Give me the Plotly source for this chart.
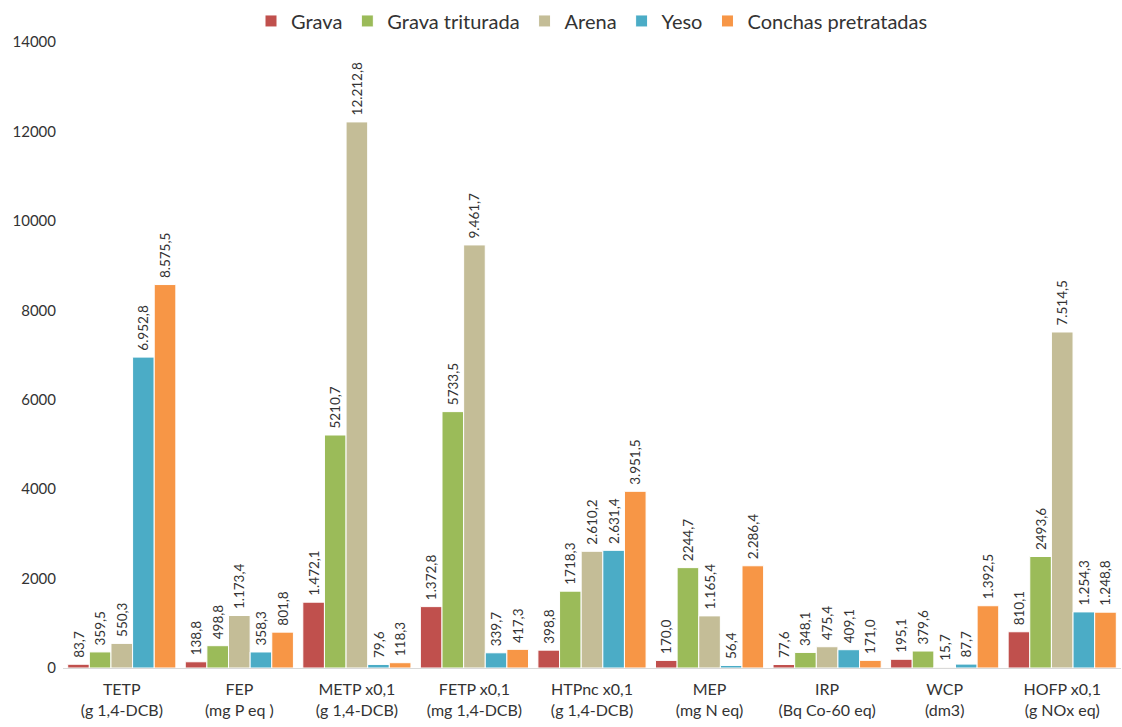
import plotly.graph_objects as go

categories = [
    "TETP<br>(g 1,4-DCB)", "FEP<br>(mg P eq )", "METP x0,1<br>(g 1,4-DCB)",
    "FETP x0,1<br>(mg 1,4-DCB)", "HTPnc x0,1<br>(g 1,4-DCB)", "MEP<br>(mg N eq)",
    "IRP<br>(Bq Co-60 eq)", "WCP<br>(dm3)", "HOFP x0,1<br>(g NOx eq)",
]

grava = [83.7, 138.8, 1472.1, 1372.8, 398.8, 170.0, 77.6, 195.1, 810.1]
grava_triturada = [359.5, 498.8, 5210.7, 5733.5, 1718.3, 2244.7, 348.1, 379.6, 2493.6]
arena = [550.3, 1173.4, 12212.8, 9461.7, 2610.2, 1165.4, 475.4, 15.7, 7514.5]
yeso = [6952.8, 358.3, 79.6, 339.7, 2631.4, 56.4, 409.1, 87.7, 1254.3]
conchas = [8575.5, 801.8, 118.3, 417.3, 3951.5, 2286.4, 171.0, 1392.5, 1248.8]

# data labels as printed (mixed thousands formatting)
grava_lbl = ["83,7", "138,8", "1.472,1", "1.372,8", "398,8", "170,0", "77,6", "195,1", "810,1"]
grava_triturada_lbl = ["359,5", "498,8", "5210,7", "5733,5", "1718,3", "2244,7", "348,1", "379,6", "2493,6"]
arena_lbl = ["550,3", "1.173,4", "12.212,8", "9.461,7", "2.610,2", "1.165,4", "475,4", "15,7", "7.514,5"]
yeso_lbl = ["6.952,8", "358,3", "79,6", "339,7", "2.631,4", "56,4", "409,1", "87,7", "1.254,3"]
conchas_lbl = ["8.575,5", "801,8", "118,3", "417,3", "3.951,5", "2.286,4", "171,0", "1.392,5", "1.248,8"]

series = [
    ("Grava", grava, grava_lbl, "#C0504D"),
    ("Grava triturada", grava_triturada, grava_triturada_lbl, "#9BBB59"),
    ("Arena", arena, arena_lbl, "#C4BD97"),
    ("Yeso", yeso, yeso_lbl, "#4BACC6"),
    ("Conchas pretratadas", conchas, conchas_lbl, "#F79646"),
]

FONT = "Lato, 'Open Sans', sans-serif"
TXT = "#333333"

fig = go.Figure()
for name, vals, lbls, color in series:
    fig.add_trace(go.Bar(
        name=name, x=categories, y=vals,
        text=["\u00a0" + s for s in lbls],
        textposition="outside", textangle=-90, cliponaxis=False,
        constraintext="none",
        textfont=dict(family=FONT, size=13.5, color=TXT),
        marker=dict(color=color, line=dict(color="white", width=1)),
    ))

fig.update_layout(
    width=1122, height=727,
    margin=dict(l=63, r=1, t=42, b=59, autoexpand=False),
    paper_bgcolor="white", plot_bgcolor="white",
    barmode="group", bargap=0.08, bargroupgap=0,
    font=dict(family=FONT, color=TXT),
    legend=dict(
        orientation="h", x=0.5, xanchor="center", y=0.998, yanchor="top",
        yref="container", font=dict(family=FONT, size=20, color=TXT),
        itemwidth=30,
    ),
    xaxis=dict(
        showgrid=False, showline=True, linecolor="#D9D9D9", linewidth=1,
        ticks="", ticklabelstandoff=7,
        tickfont=dict(family=FONT, size=16, color=TXT),
    ),
    yaxis=dict(
        range=[0, 14000], dtick=2000, showgrid=False, zeroline=False,
        showline=False, ticks="", tickformat="d", ticklabelstandoff=6,
        tickfont=dict(family=FONT, size=15, color=TXT),
    ),
)

fig.write_html("out.html")
